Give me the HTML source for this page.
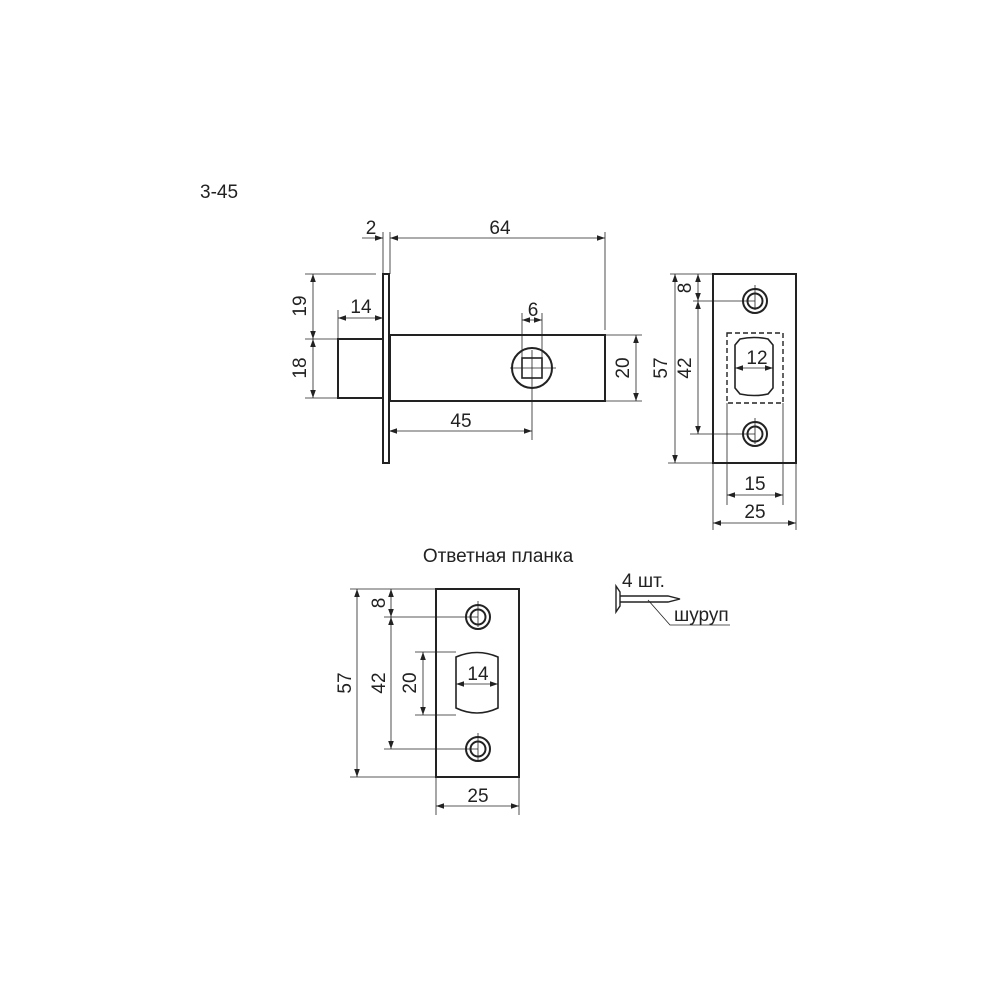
<!DOCTYPE html>
<html><head><meta charset="utf-8"><style>
html,body{margin:0;padding:0;background:#fff}
svg text{font-family:"Liberation Sans Narrow","Liberation Sans",sans-serif;font-size:19px;fill:#222}
</style></head><body>
<svg width="1000" height="1000" viewBox="0 0 1000 1000" xmlns="http://www.w3.org/2000/svg">
<defs>
<marker id="a" viewBox="0 0 10 10" refX="10" refY="5" markerWidth="8" markerHeight="8" orient="auto-start-reverse" markerUnits="userSpaceOnUse"><path d="M0,1.5 L10,5 L0,8.5Z" fill="#222"/></marker>
</defs>
<g stroke="#222" fill="none">
<g stroke-width="2">
<rect x="383" y="274" width="6" height="189"/>
<rect x="390" y="335" width="215" height="66"/>
<rect x="338" y="339" width="45" height="59"/>
<circle cx="532" cy="368" r="20"/>
<rect x="522" y="358" width="20" height="20" stroke-width="1.6"/>
</g>
<g stroke-width="0.8">
<line x1="383" y1="232" x2="383" y2="274"/><line x1="390" y1="232" x2="390" y2="274"/>
<line x1="605" y1="232" x2="605" y2="330"/>
<line x1="362" y1="238" x2="383" y2="238" marker-end="url(#a)"/>
<line x1="390" y1="238" x2="605" y2="238" marker-start="url(#a)" marker-end="url(#a)"/>
<line x1="305" y1="274" x2="376" y2="274"/><line x1="305" y1="339" x2="383" y2="339"/><line x1="305" y1="398" x2="338" y2="398"/>
<line x1="313" y1="274" x2="313" y2="339" marker-start="url(#a)" marker-end="url(#a)"/>
<line x1="313" y1="339" x2="313" y2="398" marker-start="url(#a)" marker-end="url(#a)"/>
<line x1="338" y1="310" x2="338" y2="339"/>
<line x1="338" y1="318" x2="383" y2="318" marker-start="url(#a)" marker-end="url(#a)"/>
<line x1="522" y1="313" x2="522" y2="358"/><line x1="542" y1="313" x2="542" y2="358"/>
<line x1="522" y1="320" x2="542" y2="320" marker-start="url(#a)" marker-end="url(#a)"/>
<line x1="510" y1="368" x2="556" y2="368"/><line x1="532" y1="350" x2="532" y2="440"/>
<line x1="605" y1="335" x2="642" y2="335"/><line x1="605" y1="401" x2="642" y2="401"/>
<line x1="636" y1="335" x2="636" y2="401" marker-start="url(#a)" marker-end="url(#a)"/>
<line x1="389" y1="431" x2="532" y2="431" marker-start="url(#a)" marker-end="url(#a)"/>
</g>
<g stroke-width="2">
<rect x="713" y="274" width="83" height="189"/>
<circle cx="755" cy="301" r="12"/><circle cx="755" cy="301" r="7.5"/>
<circle cx="755" cy="434" r="12"/><circle cx="755" cy="434" r="7.5"/>
<path d="M735,345 L740,339 Q754,336 768,339 L773,345 L773,388 L768,394 Q754,397 740,394 L735,388Z" stroke-width="1.6"/>
</g>
<rect x="727" y="333" width="56" height="70" stroke-width="1.4" stroke-dasharray="5,3"/>
<g stroke-width="0.8">
<line x1="755" y1="285" x2="755" y2="310"/><line x1="755" y1="418" x2="755" y2="444"/>
<line x1="670" y1="274" x2="713" y2="274"/><line x1="693" y1="301" x2="755" y2="301"/>
<line x1="690" y1="434" x2="755" y2="434"/><line x1="668" y1="463" x2="713" y2="463"/>
<line x1="675" y1="274" x2="675" y2="463" marker-start="url(#a)" marker-end="url(#a)"/>
<line x1="698" y1="274" x2="698" y2="301" marker-start="url(#a)" marker-end="url(#a)"/>
<line x1="698" y1="301" x2="698" y2="434" marker-start="url(#a)" marker-end="url(#a)"/>
<line x1="735" y1="368" x2="773" y2="368" marker-start="url(#a)" marker-end="url(#a)"/>
<line x1="727" y1="403" x2="727" y2="505"/><line x1="783" y1="403" x2="783" y2="505"/>
<line x1="713" y1="463" x2="713" y2="530"/><line x1="796" y1="463" x2="796" y2="530"/>
<line x1="727" y1="495" x2="783" y2="495" marker-start="url(#a)" marker-end="url(#a)"/>
<line x1="713" y1="523" x2="796" y2="523" marker-start="url(#a)" marker-end="url(#a)"/>
</g>
<g stroke-width="2">
<rect x="436" y="589" width="83" height="188"/>
<circle cx="478" cy="617" r="12"/><circle cx="478" cy="617" r="7.5"/>
<circle cx="478" cy="749" r="12"/><circle cx="478" cy="749" r="7.5"/>
<path d="M456,657 L456,708 Q477,718 498,708 L498,657 Q477,648 456,657Z" stroke-width="1.6"/>
</g>
<g stroke-width="0.8">
<line x1="478" y1="601" x2="478" y2="627"/><line x1="478" y1="733" x2="478" y2="760"/>
<line x1="350" y1="589" x2="436" y2="589"/><line x1="350" y1="777" x2="436" y2="777"/>
<line x1="384" y1="617" x2="478" y2="617"/><line x1="384" y1="749" x2="478" y2="749"/>
<line x1="415" y1="652" x2="456" y2="652"/><line x1="415" y1="715" x2="456" y2="715"/>
<line x1="357" y1="589" x2="357" y2="777" marker-start="url(#a)" marker-end="url(#a)"/>
<line x1="391" y1="589" x2="391" y2="617" marker-start="url(#a)" marker-end="url(#a)"/>
<line x1="391" y1="617" x2="391" y2="749" marker-start="url(#a)" marker-end="url(#a)"/>
<line x1="423" y1="652" x2="423" y2="715" marker-start="url(#a)" marker-end="url(#a)"/>
<line x1="456" y1="684" x2="498" y2="684" marker-start="url(#a)" marker-end="url(#a)"/>
<line x1="436" y1="777" x2="436" y2="815"/><line x1="519" y1="777" x2="519" y2="815"/>
<line x1="436" y1="806" x2="519" y2="806" marker-start="url(#a)" marker-end="url(#a)"/>
</g>
<g stroke-width="1.4">
<path d="M616,586 L616,612 L620,606 L620,592Z"/>
<path d="M620,596 L668,596 L680,599 L668,602 L620,602"/>
</g>
<g stroke-width="0.8"><polyline points="648,600 670,625 730,625"/></g>
</g>
<text x="200" y="198" font-size="20">3-45</text>
<text x="371" y="234" text-anchor="middle">2</text>
<text x="500" y="234" text-anchor="middle">64</text>
<text x="361" y="313" text-anchor="middle">14</text>
<text x="533" y="316" text-anchor="middle">6</text>
<text x="461" y="427" text-anchor="middle">45</text>
<text transform="translate(306,306) rotate(-90)" text-anchor="middle">19</text>
<text transform="translate(306,368) rotate(-90)" text-anchor="middle">18</text>
<text transform="translate(629,368) rotate(-90)" text-anchor="middle">20</text>
<text transform="translate(667,368) rotate(-90)" text-anchor="middle">57</text>
<text transform="translate(691,368) rotate(-90)" text-anchor="middle">42</text>
<text transform="translate(691,288) rotate(-90)" text-anchor="middle">8</text>
<text x="757" y="364" text-anchor="middle">12</text>
<text x="755" y="490" text-anchor="middle">15</text>
<text x="755" y="518" text-anchor="middle">25</text>
<text x="498" y="562" text-anchor="middle" font-size="19">Ответная планка</text>
<text transform="translate(351,683) rotate(-90)" text-anchor="middle">57</text>
<text transform="translate(385,683) rotate(-90)" text-anchor="middle">42</text>
<text transform="translate(416,683) rotate(-90)" text-anchor="middle">20</text>
<text transform="translate(385,603) rotate(-90)" text-anchor="middle">8</text>
<text x="478" y="680" text-anchor="middle">14</text>
<text x="478" y="802" text-anchor="middle">25</text>
<text x="622" y="587" font-size="17">4 шт.</text>
<text x="674" y="621" font-size="17">шуруп</text>
</svg>
</body></html>
